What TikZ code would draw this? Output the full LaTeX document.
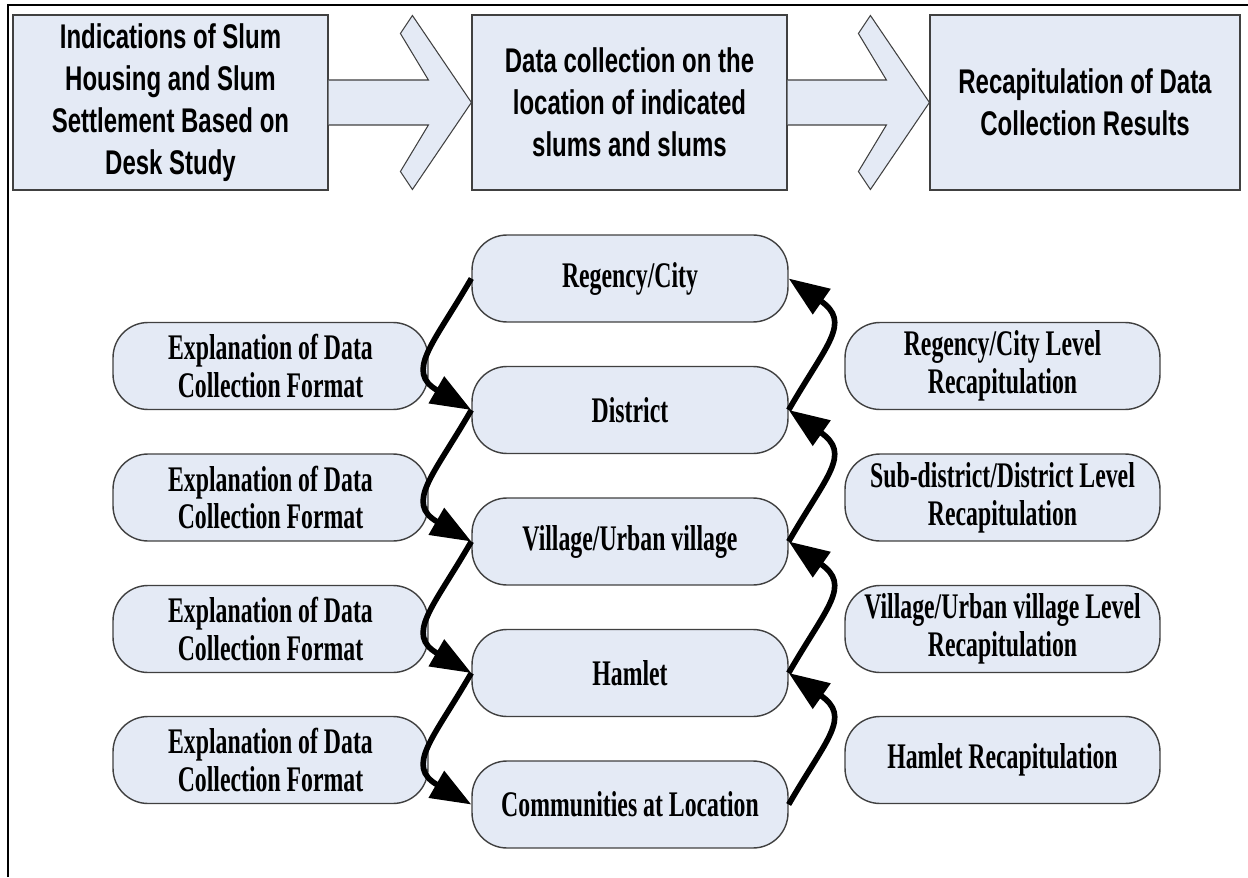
\documentclass[tikz,border=0pt]{standalone}
\usepackage{fontspec}
\usepackage{tikz}
\usetikzlibrary{arrows.meta,calc,positioning}
\newfontfamily\topfont[FakeStretch=0.7]{Liberation Sans}
\newfontfamily\lowfont[FakeStretch=0.66]{Liberation Serif}
\definecolor{boxblue}{HTML}{E4EAF5}
\definecolor{boxline}{HTML}{404040}

\begin{document}
\begin{tikzpicture}[x=0.02cm,y=0.02cm,
  topbox/.style={draw=boxline, line width=0.7pt, fill=boxblue, minimum width=6.3cm,
    minimum height=3.5cm, align=center, inner sep=0pt,
    font=\topfont\bfseries\fontsize{19.5}{23.8}\selectfont},
  pill/.style={draw=boxline, line width=0.8pt, fill=boxblue, rounded corners=0.7cm,
    minimum width=6.3cm, minimum height=1.74cm, align=center, inner sep=0pt,
    font=\lowfont\bfseries\fontsize{20.5}{21.5}\selectfont},
  bigarrow/.style={draw=boxline, line width=0.6pt, fill=boxblue, line join=miter},
  curvy/.style={line width=3.2pt, -{Triangle[length=23pt,width=17pt]}, looseness=1.5}]
\useasboundingbox (0,0) rectangle (1248,877);
\draw[line width=1.3pt] (8,0) -- (8,872) -- (1248,872);

% top row
\node[topbox] (desk) at (170.5,774.5) {Indications of Slum\\Housing and Slum\\Settlement Based on\\Desk Study};
\node[topbox] (collect) at (629.5,774.5) {Data collection on the\\location of indicated\\slums and slums};
\node[topbox, minimum width=6.2cm] (recap) at (1085,774.5) {Recapitulation of Data\\Collection Results};
\foreach \a/\b in {desk/collect, collect/recap}
  \draw[bigarrow] ($(\a.east)+(0,22.5)$) -- ($(\b.west)+(-43,22.5)$) -- ($(\b.west)+(-71,69)$)
    -- ($(\b.west)+(-59,87)$) -- (\b.west) -- ($(\b.west)+(-59,-87)$) -- ($(\b.west)+(-71,-69)$)
    -- ($(\b.west)+(-43,-22.5)$) -- ($(\a.east)+(0,-22.5)$);

% levels
\node[pill, minimum width=6.32cm] (city) at (630,598.5) {Regency/City};
\node[pill, minimum width=6.32cm] (district) at (630,467) {District};
\node[pill, minimum width=6.32cm] (village) at (630,335.5) {Village/Urban village};
\node[pill, minimum width=6.32cm] (hamlet) at (630,204) {Hamlet};
\node[pill, minimum width=6.32cm] (community) at (630,72.5) {Communities at Location};

% explanations
\node[pill] (explainA) at (270.5,511) {Explanation of Data\\Collection Format};
\node[pill] (explainB) at (270.5,379.5) {Explanation of Data\\Collection Format};
\node[pill] (explainC) at (270.5,248) {Explanation of Data\\Collection Format};
\node[pill] (explainD) at (270.5,117) {Explanation of Data\\Collection Format};

% recapitulations
\node[pill] (recapA) at (1002.5,511) {Regency/City Level\\Recapitulation};
\node[pill] (recapB) at (1002.5,379.5) {Sub-district/District Level\\Recapitulation};
\node[pill] (recapC) at (1002.5,248) {Village/Urban village Level\\Recapitulation};
\node[pill] (recapD) at (1002.5,117) {Hamlet Recapitulation};

\foreach \a/\b in {city/district, district/village, village/hamlet, hamlet/community}
  \draw[curvy] (\a.west) to[out=240,in=150] (\b.west);
\foreach \a/\b in {community/hamlet, hamlet/village, village/district, district/city}
  \draw[curvy] (\a.east) to[out=60,in=-35] (\b.east);
\end{tikzpicture}
\end{document}
